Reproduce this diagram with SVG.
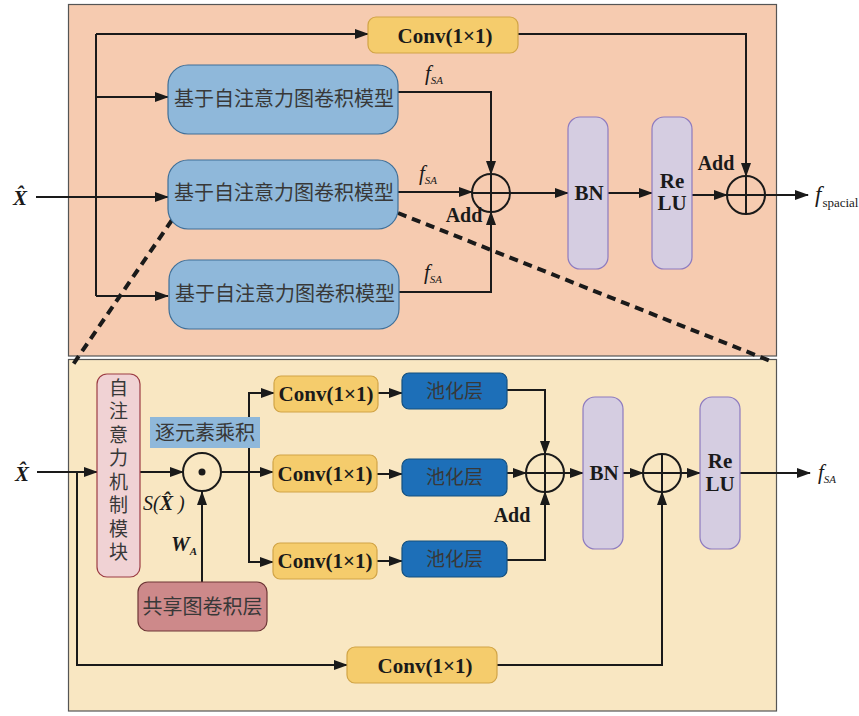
<svg xmlns="http://www.w3.org/2000/svg" width="859" height="716" viewBox="0 0 859 716">
  <defs>
    <marker id="arr" viewBox="0 0 14 10" refX="13" refY="5" markerWidth="14" markerHeight="10" markerUnits="userSpaceOnUse" orient="auto">
      <path d="M0,0 L14,5 L0,10 Z" fill="#1a1a1a"/>
    </marker>
    <style>
      .panel { stroke: #555; stroke-width: 1.2; }
      .ln { fill: none; stroke: #1a1a1a; stroke-width: 2; }
      .la { fill: none; stroke: #1a1a1a; stroke-width: 2; marker-end: url(#arr); }
      .dash { fill: none; stroke: #1a1a1a; stroke-width: 4; stroke-dasharray: 9 6; }
      .conv { fill: #f5cc6c; stroke: #d1a446; stroke-width: 1.2; }
      .sag { fill: #8fb8da; stroke: #3f6f98; stroke-width: 1.2; }
      .bn { fill: #d5cde1; stroke: #8e7bbf; stroke-width: 1.2; }
      .pool { fill: #1d6fb8; stroke: #14507f; stroke-width: 1.2; }
      .att { fill: #f0d2d4; stroke: #9c3c44; stroke-width: 1.2; }
      .shared { fill: #cd898a; stroke: #6e3636; stroke-width: 1.2; }
      .op { fill: none; stroke: #1a1a1a; stroke-width: 2; }
      .en { font-family: "Liberation Serif", serif; font-weight: bold; fill: #1a1a1a; }
      .it { font-family: "Liberation Serif", serif; font-style: italic; fill: #1a1a1a; }
      .zh { font-family: "Noto Sans CJK SC", sans-serif; fill: #383838; }
    </style>
  </defs>

  <!-- panels -->
  <rect id="panel-top" class="panel" x="68.5" y="4.5" width="708" height="351.5" fill="#f6cbb0"/>
  <rect id="panel-bottom" class="panel" x="68.5" y="359.5" width="708" height="351.5" fill="#f9e7c2"/>

  <!-- connectors -->
  <g id="connectors">
    <!-- top panel -->
    <line class="ln" x1="36" y1="197" x2="96" y2="197"/>
    <path class="ln" d="M96,34 V296"/>
    <path class="la" d="M96,34 H368"/>
    <path class="la" d="M96,97 H168"/>
    <path class="la" d="M96,197 H168"/>
    <path class="la" d="M96,296 H168"/>
    <path class="la" d="M398,92 H491 V174"/>
    <path class="la" d="M398,192 H472"/>
    <path class="la" d="M398,292 H491 V212"/>
    <path class="la" d="M510,193 H568"/>
    <path class="la" d="M608,193 H652"/>
    <path class="la" d="M692,195 H727"/>
    <path class="la" d="M518,34 H746 V176"/>
    <path class="la" d="M765,195 H808"/>
    <!-- zoom lines -->
    <line class="dash" x1="172" y1="220" x2="72" y2="366"/>
    <line class="dash" x1="398" y1="213" x2="773" y2="362"/>
    <!-- bottom panel -->
    <path class="la" d="M37,472 H97"/>
    <path class="la" d="M77,472 V665 H347"/>
    <path class="la" d="M140,472 H183"/>
    <path class="la" d="M202,582 V492"/>
    <path class="la" d="M221,472 H273"/>
    <path class="la" d="M249,472 V393 H274"/>
    <path class="la" d="M249,472 V562 H273"/>
    <path class="la" d="M378,393 H402"/>
    <path class="la" d="M377,474 H402"/>
    <path class="la" d="M377,561 H402"/>
    <path class="la" d="M507,390 H545 V454"/>
    <path class="la" d="M507,473 H526"/>
    <path class="la" d="M507,560 H545 V492"/>
    <path class="la" d="M564,473 H583"/>
    <path class="la" d="M623,473 H643"/>
    <path class="la" d="M681,473 H700"/>
    <path class="la" d="M497,665 H662 V492"/>
    <path class="la" d="M740,473 H810"/>
  </g>

  <!-- top panel nodes -->
  <g id="input-top">
    <text class="en" x="20" y="205" font-size="21" font-style="italic" text-anchor="middle">X&#x302;</text>
  </g>
  <g id="conv-top">
    <rect class="conv" x="368" y="17" width="150" height="36" rx="8"/>
    <text class="en" x="445" y="43" font-size="21" text-anchor="middle">Conv(1×1)</text>
  </g>
  <g id="sagcn-1">
    <rect class="sag" x="168" y="65" width="230" height="69" rx="20"/>
    <text class="zh" x="284" y="106" font-size="20" text-anchor="middle">基于自注意力图卷积模型</text>
  </g>
  <g id="sagcn-2">
    <rect class="sag" x="168" y="160" width="230" height="69" rx="20"/>
    <text class="zh" x="284" y="200" font-size="20" text-anchor="middle">基于自注意力图卷积模型</text>
  </g>
  <g id="sagcn-3">
    <rect class="sag" x="169" y="260" width="230" height="69" rx="20"/>
    <text class="zh" x="285" y="301" font-size="20" text-anchor="middle">基于自注意力图卷积模型</text>
  </g>
  <g id="fsa-labels">
    <text class="it" x="425" y="80" font-size="21">f<tspan font-size="11" dy="4">SA</tspan></text>
    <text class="it" x="419" y="180" font-size="21">f<tspan font-size="11" dy="4">SA</tspan></text>
    <text class="it" x="424" y="279" font-size="21">f<tspan font-size="11" dy="4">SA</tspan></text>
  </g>
  <g id="add-top-1">
    <circle class="op" cx="491" cy="193" r="19"/>
    <path class="ln" d="M472,193 H510 M491,174 V212"/>
    <text class="en" x="464" y="222" font-size="20" text-anchor="middle">Add</text>
  </g>
  <g id="bn-top">
    <rect class="bn" x="568" y="117" width="40" height="152" rx="12"/>
    <text class="en" x="589" y="200" font-size="21" text-anchor="middle">BN</text>
  </g>
  <g id="relu-top">
    <rect class="bn" x="652" y="117" width="40" height="152" rx="12"/>
    <text class="en" x="672" y="188" font-size="21" text-anchor="middle">Re</text>
    <text class="en" x="672" y="210" font-size="21" text-anchor="middle">LU</text>
  </g>
  <g id="add-top-2">
    <circle class="op" cx="746" cy="195" r="19"/>
    <path class="ln" d="M727,195 H765 M746,176 V214"/>
    <text class="en" x="716" y="170" font-size="20" text-anchor="middle">Add</text>
  </g>
  <g id="output-top">
    <text class="it" x="815" y="202" font-size="23">f<tspan font-style="normal" font-size="13" dx="1" dy="5">spacial</tspan></text>
  </g>

  <!-- bottom panel nodes -->
  <g id="input-bottom">
    <text class="en" x="22" y="481" font-size="21" font-style="italic" text-anchor="middle">X&#x302;</text>
  </g>
  <g id="attention">
    <rect class="att" x="97" y="374" width="43" height="203" rx="10"/>
    <!-- vertical label, one glyph per line -->
    <text class="zh" x="118.5" y="378" font-size="19" fill="#3a2a2a" writing-mode="vertical-rl" letter-spacing="4.5">自注意力机制模块</text>
  </g>
  <g id="elementwise">
    <rect x="150" y="417" width="110" height="31" fill="#8fb8da"/>
    <text class="zh" x="205" y="440" font-size="20" text-anchor="middle">逐元素乘积</text>
    <circle class="op" cx="202" cy="472" r="19"/>
    <circle cx="202" cy="472" r="3.5" fill="#1a1a1a"/>
    <text class="it" x="143" y="510" font-size="20">S(<tspan font-weight="bold">X&#x302;</tspan> )</text>
    <text class="it" x="171" y="551" font-size="21" font-weight="bold">W<tspan font-size="11" dy="4">A</tspan></text>
  </g>
  <g id="shared-gcn">
    <rect class="shared" x="138" y="582" width="129" height="49" rx="10"/>
    <text class="zh" x="202.5" y="614" font-size="20" text-anchor="middle" fill="#3a2a2a">共享图卷积层</text>
  </g>
  <g id="conv-b1">
    <rect class="conv" x="274" y="376" width="104" height="36" rx="7"/>
    <text class="en" x="326" y="401" font-size="21" text-anchor="middle">Conv(1×1)</text>
  </g>
  <g id="conv-b2">
    <rect class="conv" x="273" y="455" width="104" height="37" rx="7"/>
    <text class="en" x="325" y="481" font-size="21" text-anchor="middle">Conv(1×1)</text>
  </g>
  <g id="conv-b3">
    <rect class="conv" x="273" y="543" width="104" height="36" rx="7"/>
    <text class="en" x="325" y="568" font-size="21" text-anchor="middle">Conv(1×1)</text>
  </g>
  <g id="pool-1">
    <rect class="pool" x="402" y="373" width="105" height="36" rx="7"/>
    <text class="zh" x="454.5" y="398" font-size="19" text-anchor="middle" fill="#e4ecf6">池化层</text>
  </g>
  <g id="pool-2">
    <rect class="pool" x="402" y="459" width="105" height="37" rx="7"/>
    <text class="zh" x="454.5" y="484" font-size="19" text-anchor="middle" fill="#e4ecf6">池化层</text>
  </g>
  <g id="pool-3">
    <rect class="pool" x="402" y="541" width="105" height="36" rx="7"/>
    <text class="zh" x="454.5" y="566" font-size="19" text-anchor="middle" fill="#e4ecf6">池化层</text>
  </g>
  <g id="add-bottom-1">
    <circle class="op" cx="545" cy="473" r="19"/>
    <path class="ln" d="M526,473 H564 M545,454 V492"/>
    <text class="en" x="512" y="522" font-size="20" text-anchor="middle">Add</text>
  </g>
  <g id="bn-bottom">
    <rect class="bn" x="583" y="397" width="40" height="152" rx="12"/>
    <text class="en" x="604" y="480" font-size="21" text-anchor="middle">BN</text>
  </g>
  <g id="add-bottom-2">
    <circle class="op" cx="662" cy="473" r="19"/>
    <path class="ln" d="M643,473 H681 M662,454 V492"/>
  </g>
  <g id="relu-bottom">
    <rect class="bn" x="700" y="397" width="40" height="152" rx="12"/>
    <text class="en" x="720" y="468" font-size="21" text-anchor="middle">Re</text>
    <text class="en" x="720" y="491" font-size="21" text-anchor="middle">LU</text>
  </g>
  <g id="conv-b4">
    <rect class="conv" x="347" y="647" width="150" height="36" rx="8"/>
    <text class="en" x="425" y="673" font-size="21" text-anchor="middle">Conv(1×1)</text>
  </g>
  <g id="output-bottom">
    <text class="it" x="818" y="479" font-size="21">f<tspan font-size="11" dy="4">SA</tspan></text>
  </g>
</svg>
